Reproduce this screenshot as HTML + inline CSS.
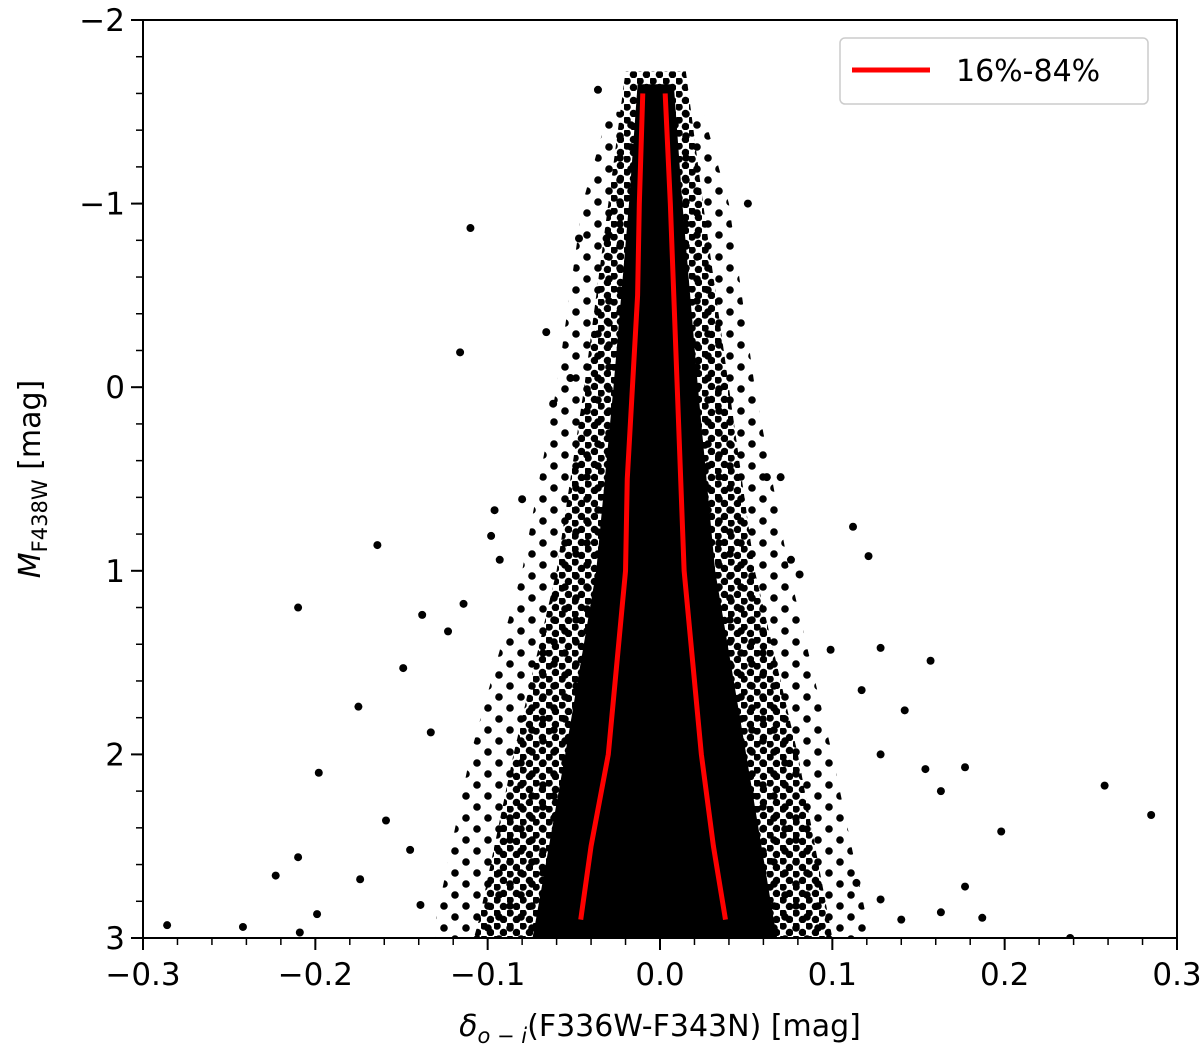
<!DOCTYPE html>
<html><head><meta charset="utf-8"><style>
body{margin:0;background:#fff}
svg text{font-family:"DejaVu Sans","Liberation Sans",sans-serif;fill:#000}
</style></head><body>
<svg id="c" width="1200" height="1057" xmlns="http://www.w3.org/2000/svg">
<defs>
<pattern id="dots" width="13" height="13" patternUnits="userSpaceOnUse">
<circle cx="3" cy="3" r="3.8" fill="#000"/><circle cx="9.5" cy="9.5" r="3.8" fill="#000"/>
</pattern>
<pattern id="dots2" width="22" height="22" patternUnits="userSpaceOnUse">
<circle cx="4" cy="4" r="3.8" fill="#000"/><circle cx="15" cy="15" r="3.8" fill="#000"/>
</pattern>
</defs>
</svg>
<script>
const xTicks=[-0.3,-0.2,-0.1,0.0,0.1,0.2,0.3];
const xTickLabels=["\u22120.3","\u22120.2","\u22120.1","0.0","0.1","0.2","0.3"];
const yTicks=[-2,-1,0,1,2,3];
const yTickLabels=["\u22122","\u22121","0","1","2","3"];
const pctMag=[-1.6,-1.0,-0.5,0,0.5,1.0,1.2,1.5,2.0,2.5,2.9];
const p16=[-0.010,-0.012,-0.013,-0.016,-0.019,-0.020,-0.022,-0.025,-0.030,-0.040,-0.046];
const p84=[0.003,0.006,0.008,0.010,0.012,0.014,0.016,0.019,0.024,0.031,0.038];
const coreMag=[-1.65,-1.0,0,1.0,2.0,2.9,3.0];
const coreLeft=[-0.013,-0.018,-0.027,-0.037,-0.055,-0.072,-0.074];
const coreRight=[0.008,0.013,0.022,0.032,0.05,0.066,0.068];
const haloMag=[-1.72,-1.0,0,1.0,2.0,2.9,3.0];
const haloLeft=[-0.02,-0.03,-0.044,-0.06,-0.085,-0.105,-0.108];
const haloRight=[0.015,0.025,0.04,0.055,0.08,0.098,0.1];
const outerMag=[-1.5,-1.0,0,1.0,2.0,2.9,3.0];
const outerLeft=[-0.03,-0.045,-0.06,-0.08,-0.11,-0.13,-0.13];
const outerRight=[0.025,0.04,0.055,0.075,0.1,0.12,0.12];
const outX=[-0.036,0.051,-0.047,-0.031,-0.066,-0.116,-0.062,-0.052,-0.080,0.062,0.070,-0.164,-0.210,-0.138,-0.114,-0.123,-0.149,-0.175,-0.198,-0.210,-0.223,-0.286,-0.242,-0.199,-0.209,0.112,0.121,0.128,0.157,0.117,0.142,0.128,0.154,0.163,0.177,0.258,0.285,0.198,0.177,0.163,0.187,0.238,0.076,0.081,-0.098,-0.093,-0.096,-0.133,-0.159,-0.145,-0.174,-0.139,0.114,0.128,0.140,0.099,-0.110];
const outY=[-1.62,-1.00,-0.81,-0.81,-0.30,-0.19,0.09,-0.05,0.61,0.49,0.49,0.86,1.20,1.24,1.18,1.33,1.53,1.74,2.10,2.56,2.66,2.93,2.94,2.87,2.97,0.76,0.92,1.42,1.49,1.65,1.76,2.00,2.08,2.20,2.07,2.17,2.33,2.42,2.72,2.86,2.89,3.00,0.94,1.02,0.81,0.94,0.67,1.88,2.36,2.52,2.68,2.82,2.70,2.79,2.90,1.43,-0.867];

const L=143,R=1177,T=20,B=938;
const sx=v=>L+(v+0.3)/0.6*(R-L);
const sy=v=>T+(v+2)/5*(B-T);
const svg=document.getElementById('c');
const NS="http://www.w3.org/2000/svg";
function mk(t,a){const e=document.createElementNS(NS,t);for(const k in a)e.setAttribute(k,a[k]);svg.appendChild(e);return e;}
function poly(mag,lft,rgt){let pts=[];for(let i=0;i<mag.length;i++)pts.push(sx(lft[i])+","+sy(mag[i]));for(let i=mag.length-1;i>=0;i--)pts.push(sx(rgt[i])+","+sy(mag[i]));return pts.join(" ");}
const clip=document.createElementNS(NS,'clipPath');clip.setAttribute('id','pc');
const cr=document.createElementNS(NS,'rect');cr.setAttribute('x',L);cr.setAttribute('y',T);cr.setAttribute('width',R-L);cr.setAttribute('height',B-T);clip.appendChild(cr);svg.appendChild(clip);
const g=mk('g',{'clip-path':'url(#pc)'});


function mg(t,a){const e=document.createElementNS(NS,t);for(const k in a)e.setAttribute(k,a[k]);g.appendChild(e);return e;}
let o=mg('polygon',{points:poly(outerMag,outerLeft,outerRight),fill:'url(#dots2)'});


let h=mg('polygon',{points:poly(haloMag,haloLeft,haloRight),fill:'url(#dots)'});


let c=mg('polygon',{points:poly(coreMag,coreLeft,coreRight),fill:'#000'});


for(let i=0;i<outX.length;i++){const p=mg('circle',{cx:sx(outX[i]),cy:sy(outY[i]),r:4,fill:'#000'});

}
function line(vals,name){const d=vals.map((v,i)=>(i?'L':'M')+sx(v)+','+sy(pctMag[i])).join(' ');const e=mg('path',{d:d,stroke:'#f00','stroke-width':5,fill:'none'});

}
line(p16,'line-16-percentile');line(p84,'line-84-percentile');
let fr=mk('rect',{x:L,y:T,width:R-L,height:B-T,fill:'none',stroke:'#000','stroke-width':2});


for(let v=-0.3;v<=0.3001;v+=0.02){mk('line',{x1:sx(v),x2:sx(v),y1:B,y2:B+7,stroke:'#000','stroke-width':1.5});}
for(let v=-2;v<=3.001;v+=0.2){mk('line',{x1:L,x2:L-7,y1:sy(v),y2:sy(v),stroke:'#000','stroke-width':1.5});}
xTicks.forEach((v,i)=>{mk('line',{x1:sx(v),x2:sx(v),y1:B,y2:B+12,stroke:'#000','stroke-width':2});
const t=mk('text',{x:sx(v),y:B+47,'font-size':31,'text-anchor':'middle'});t.textContent=xTickLabels[i];

});
yTicks.forEach((v,i)=>{mk('line',{x1:L,x2:L-12,y1:sy(v),y2:sy(v),stroke:'#000','stroke-width':2});
const t=mk('text',{x:L-18,y:sy(v)+11,'font-size':31,'text-anchor':'end'});t.textContent=yTickLabels[i];

});
</script>
<svg style="position:absolute;left:0;top:0" width="1200" height="1057">
<text x="660" y="1036" font-size="30" text-anchor="middle" font-family="DejaVu Sans,sans-serif"><tspan font-style="italic">δ</tspan><tspan font-style="italic" font-size="21" dy="7">o − i</tspan><tspan dy="-7">(F336W-F343N) [mag]</tspan></text>
<text transform="translate(40,479) rotate(-90)" font-size="30" text-anchor="middle" font-family="DejaVu Sans,sans-serif"><tspan font-style="italic">M</tspan><tspan font-size="21" dy="7">F438W</tspan><tspan dy="-7"> [mag]</tspan></text>
<g>
<rect x="840" y="38" width="308" height="66" rx="5" fill="#fff" fill-opacity="0.8" stroke="#ccc" stroke-width="1.5"/>
<line x1="852" x2="930" y1="70" y2="70" stroke="#f00" stroke-width="5"/>
<text x="956" y="81" font-size="30" font-family="DejaVu Sans,sans-serif">16%-84%</text>
</g>
</svg>
</body></html>
